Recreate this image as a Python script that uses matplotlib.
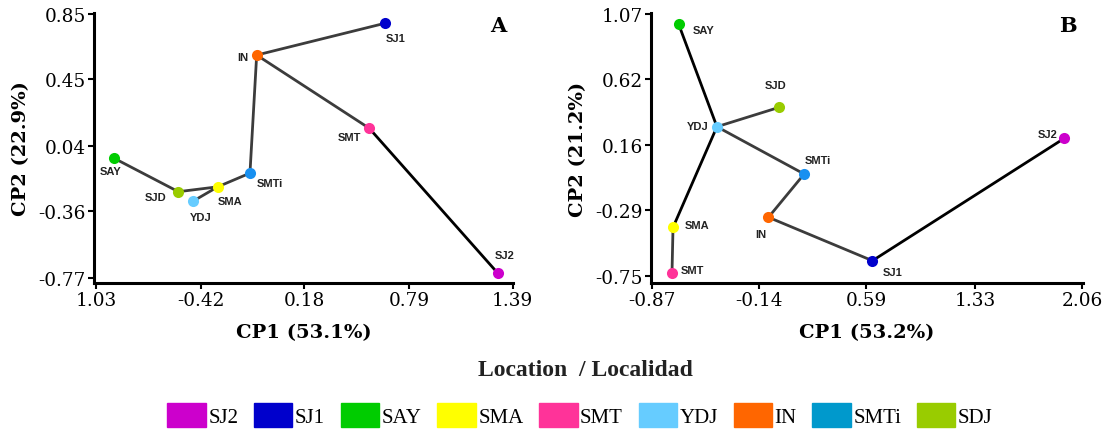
import matplotlib
matplotlib.use("Agg")
import matplotlib.pyplot as plt
from matplotlib.patches import Patch

# ------------------------------------------------------------------ datos

# Panel A
a_names = ['SAY', 'SJD', 'YDJ', 'SMA', 'SMTi', 'IN', 'SJ1', 'SMT', 'SJ2']
a_cp1 = [-0.925, -0.552, -0.468, -0.323, -0.136, -0.097, 0.648, 0.557, 1.303]
a_cp2 = [-0.035, -0.240, -0.299, -0.210, -0.126, 0.598, 0.793, 0.149, -0.739]
a_edges = [('SAY', 'SJD'), ('SJD', 'SMA'), ('SMA', 'YDJ'), ('SMA', 'SMTi'),
           ('SMTi', 'IN'), ('IN', 'SJ1'), ('IN', 'SMT'), ('SMT', 'SJ2')]
a_dark = [('SMT', 'SJ2')]
a_xticks = [-1.03, -0.42, 0.18, 0.79, 1.39]
a_xlabels = ['1.03', '-0.42', '0.18', '0.79', '1.39']
a_yticks = [0.85, 0.45, 0.04, -0.36, -0.77]
a_ylabels = ['0.85', '0.45', '0.04', '-0.36', '-0.77']

# Panel B
b_names = ['SAY', 'YDJ', 'SJD', 'SMTi', 'IN', 'SMA', 'SMT', 'SJ1', 'SJ2']
b_cp1 = [-0.689, -0.428, -0.004, 0.166, -0.077, -0.727, -0.734, 0.631, 1.937]
b_cp2 = [1.000, 0.286, 0.421, -0.043, -0.344, -0.414, -0.731, -0.646, 0.205]
b_edges = [('SAY', 'YDJ'), ('YDJ', 'SJD'), ('YDJ', 'SMA'), ('YDJ', 'SMTi'),
           ('SMTi', 'IN'), ('IN', 'SJ1'), ('SJ1', 'SJ2'), ('SMA', 'SMT')]
b_dark = [('SAY', 'YDJ'), ('YDJ', 'SMA'), ('SJ1', 'SJ2')]
b_xticks = [-0.87, -0.14, 0.59, 1.33, 2.06]
b_xlabels = ['-0.87', '-0.14', '0.59', '1.33', '2.06']
b_yticks = [1.07, 0.62, 0.16, -0.29, -0.75]
b_ylabels = ['1.07', '0.62', '0.16', '-0.29', '-0.75']

# Leyenda
legend_names = ['SJ2', 'SJ1', 'SAY', 'SMA', 'SMT', 'YDJ', 'IN', 'SMTi', 'SDJ']
legend_colors = ['#CC00CC', '#0000CC', '#00CC00', '#FFFF00', '#FF3399',
                 '#66CCFF', '#FF6600', '#0099CC', '#99CC00']

# colores de los puntos
point_colors = {'SJ2': '#CC00CC', 'SJ1': '#0000CC', 'SAY': '#00CC00',
                'SMA': '#FFFF00', 'SMT': '#FF3399', 'YDJ': '#66CCFF',
                'IN': '#FF6600', 'SMTi': '#1890F0', 'SJD': '#99CC00'}

# desplazamiento de etiquetas (px, y hacia arriba) y alineacion
a_offsets = {'SAY': (-4, -13, 'center'), 'SJD': (-12, -5, 'right'),
             'YDJ': (8, -16, 'center'), 'SMA': (12, -14, 'center'),
             'SMTi': (7, -10, 'left'), 'IN': (-8, -2, 'right'),
             'SJ1': (11, -15, 'center'), 'SMT': (-8, -9, 'right'),
             'SJ2': (7, 18, 'center')}
b_offsets = {'SAY': (14, -6, 'left'), 'SJD': (-4, 22, 'center'),
             'YDJ': (-8, 1, 'right'), 'SMTi': (14, 14, 'center'),
             'IN': (-8, -17, 'center'), 'SMA': (12, 2, 'left'),
             'SMT': (9, 3, 'left'), 'SJ1': (20, -11, 'center'),
             'SJ2': (-7, 4, 'right')}

SERIF = 'DejaVu Serif'

# ------------------------------------------------------------------ graficos

def draw_panel(ax, names, xs, ys, edges, dark, offsets, xlim, ylim,
               xticks, xlabels, yticks, ylabels, xlab, ylab, letter):
    pos = {n: (x, y) for n, x, y in zip(names, xs, ys)}
    for e in edges:
        p, q = pos[e[0]], pos[e[1]]
        col = '#000000' if e in dark else '#3c3c3c'
        ax.plot([p[0], q[0]], [p[1], q[1]], color=col, lw=2.0,
                solid_capstyle='round', zorder=2)
    for n in names:
        ax.plot(*pos[n], 'o', ms=8, color=point_colors[n], mec='none',
                zorder=3)
        dx, dy, ha = offsets[n]
        ax.annotate(n, pos[n], xytext=(dx, dy), textcoords='offset pixels',
                    ha=ha, va='center', fontsize=8, fontweight='bold',
                    family='Liberation Sans', color='#222222')
    ax.set_xlim(*xlim)
    ax.set_ylim(*ylim)
    ax.set_xticks(xticks)
    ax.set_xticklabels(xlabels, family=SERIF, fontsize=13.3)
    ax.set_yticks(yticks)
    ax.set_yticklabels(ylabels, family=SERIF, fontsize=13.3)
    ax.tick_params(direction='out', length=4, width=1.5, pad=2)
    for s in ['top', 'right']:
        ax.spines[s].set_visible(False)
    for s in ['left', 'bottom']:
        ax.spines[s].set_linewidth(2.2)
    ax.set_xlabel(xlab, family=SERIF, fontsize=14, fontweight='bold',
                  labelpad=10)
    ax.set_ylabel(ylab, family=SERIF, fontsize=14, fontweight='bold',
                  labelpad=6)
    ax.text(0.985, 0.955, letter, transform=ax.transAxes, ha='right',
            va='center', family=SERIF, fontsize=15, fontweight='bold')


fig = plt.figure(figsize=(11.14, 4.31), dpi=100)
ax_a = fig.add_axes([94 / 1114, 147 / 431, 419 / 1114, 270 / 431])
ax_b = fig.add_axes([651 / 1114, 147 / 431, 432 / 1114, 270 / 431])

draw_panel(ax_a, a_names, a_cp1, a_cp2, a_edges, a_dark, a_offsets,
           (-1.042, 1.392), (-0.80, 0.856), a_xticks, a_xlabels,
           a_yticks, a_ylabels, 'CP1 (53.1%)', 'CP2 (22.9%)', 'A')
draw_panel(ax_b, b_names, b_cp1, b_cp2, b_edges, b_dark, b_offsets,
           (-0.877, 2.065), (-0.801, 1.077), b_xticks, b_xlabels,
           b_yticks, b_ylabels, 'CP1 (53.2%)', 'CP2 (21.2%)', 'B')

fig.text(585 / 1114, (431 - 371) / 431, 'Location  / Localidad',
         ha='center', va='center', family='Liberation Serif', fontsize=17,
         fontweight='bold', color='#222222')

handles = [Patch(facecolor=c, edgecolor=c, label=n)
           for n, c in zip(legend_names, legend_colors)]
fig.legend(handles=handles, loc='center', ncol=9,
           bbox_to_anchor=(580 / 1114, (431 - 416) / 431), frameon=False,
           prop={'family': 'Liberation Serif', 'size': 15},
           handlelength=1.85, handleheight=1.35, handletextpad=0.12,
           columnspacing=0.75, borderpad=0, borderaxespad=0)

fig.savefig('out.png', dpi=100)
